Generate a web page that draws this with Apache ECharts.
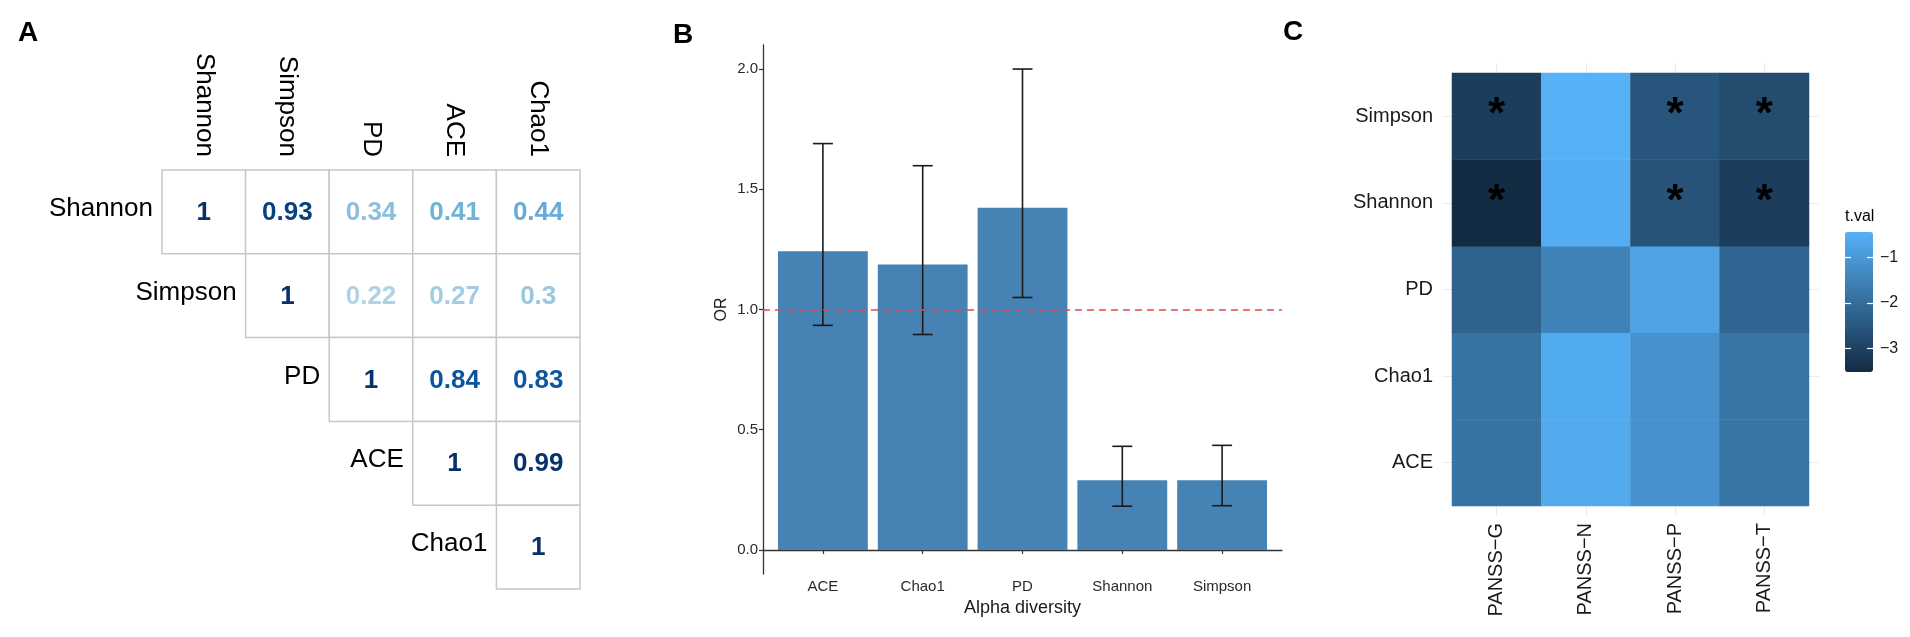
<!DOCTYPE html>
<html lang="en">
<head>
    <meta charset="UTF-8">
    <title>Alpha diversity</title>
    <script src="https://cdn.jsdelivr.net/npm/echarts@6.0.0/dist/echarts.min.js"></script>
    <style type="text/css">
        html, body {
            margin: 0;
            padding: 0;
            background: #fff;
        }
        #main {
            width: 1910px;
            height: 637px;
        }
    </style>
</head>
<body>
    <div id="main"></div>
    <script>
        // A: correlation between alpha diversity indices (upper triangle)
        var alphaNames = ['Shannon', 'Simpson', 'PD', 'ACE', 'Chao1'];
        var corrShannon = [1, 0.93, 0.34, 0.41, 0.44];
        var corrSimpson = [1, 0.22, 0.27, 0.3];
        var corrPD = [1, 0.84, 0.83];
        var corrACE = [1, 0.99];
        var corrChao1 = [1];

        // B: odds ratio with confidence interval
        var orNames = ['ACE', 'Chao1', 'PD', 'Shannon', 'Simpson'];
        var orValues = [1.242, 1.187, 1.423, 0.290, 0.290];
        var orLower = [0.934, 0.896, 1.050, 0.182, 0.184];
        var orUpper = [1.690, 1.598, 2.000, 0.431, 0.435];
        var orTicks = [0, 0.5, 1, 1.5, 2];

        // C: t values, alpha diversity vs PANSS scores
        var panssNames = ['PANSS\u2212G', 'PANSS\u2212N', 'PANSS\u2212P', 'PANSS\u2212T'];
        var heatRows = ['ACE', 'Chao1', 'PD', 'Shannon', 'Simpson'];
        var tvalACE = [-1.87, -0.62, -1.15, -1.80];
        var tvalChao1 = [-1.89, -0.59, -1.18, -1.80];
        var tvalPD = [-2.25, -1.50, -0.77, -2.16];
        var tvalShannon = [-3.51, -0.54, -2.60, -3.10];
        var tvalSimpson = [-3.08, -0.45, -2.55, -2.76];
        var sigShannon = [1, 0, 1, 1];
        var sigSimpson = [1, 0, 1, 1];
        var tvalTicks = [-3, -2, -1];

        var FONT = '"Liberation Sans", Arial, Helvetica, sans-serif';

        // build the triangle: [column, row, r]
        var corrRows = [corrShannon, corrSimpson, corrPD, corrACE, corrChao1];
        var corrData = [];
        corrRows.forEach(function (row, r) {
            row.forEach(function (v, k) {
                corrData.push([r + k, r, v]);
            });
        });

        var barData = orValues.map(function (v, i) { return [i + 1, v]; });
        var errData = orValues.map(function (v, i) { return [i + 1, orLower[i], orUpper[i]]; });

        var tvalRows = [tvalACE, tvalChao1, tvalPD, tvalShannon, tvalSimpson];
        var sigRows = [[0, 0, 0, 0], [0, 0, 0, 0], [0, 0, 0, 0], sigShannon, sigSimpson];
        var heatData = [];
        var allT = [];
        tvalRows.forEach(function (row, r) {
            row.forEach(function (v, c) {
                heatData.push([c, r, v, sigRows[r][c]]);
                allT.push(v);
            });
        });
        var tMin = Math.min.apply(null, allT);
        var tMax = Math.max.apply(null, allT);

        var lightTick = { show: true, alignWithLabel: true, length: 10, lineStyle: { color: '#ebebeb', width: 1 } };

        var myChart = echarts.init(document.getElementById('main'));
        var option = {
            animation: false,
            backgroundColor: '#fff',
            textStyle: { fontFamily: FONT },
            title: [
                { text: 'A', left: 18, top: 19, padding: 0, textStyle: { fontSize: 28, fontWeight: 'bold', color: '#000', fontFamily: FONT } },
                { text: 'B', left: 673, top: 21, padding: 0, textStyle: { fontSize: 28, fontWeight: 'bold', color: '#000', fontFamily: FONT } },
                { text: 'C', left: 1283, top: 18, padding: 0, textStyle: { fontSize: 28, fontWeight: 'bold', color: '#000', fontFamily: FONT } }
            ],
            grid: [
                { left: 162, top: 170, width: 418, height: 419, outerBoundsMode: 'none' },
                { left: 763, top: 45, width: 519, height: 529, outerBoundsMode: 'none' },
                { left: 1452, top: 73, width: 357, height: 433, outerBoundsMode: 'none' },
                { left: 1845, top: 232, width: 28, height: 140, outerBoundsMode: 'none' }
            ],
            xAxis: [
                {
                    gridIndex: 0, type: 'category', data: alphaNames, position: 'top',
                    axisLine: { show: false }, axisTick: { show: false }, splitLine: { show: false },
                    axisLabel: { rotate: 90, margin: 13, fontSize: 26, color: '#000', fontFamily: FONT }
                },
                {
                    gridIndex: 1, type: 'value', min: 0.4, max: 5.6,
                    name: 'Alpha diversity', nameLocation: 'middle', nameGap: 22,
                    nameTextStyle: { fontSize: 18, color: '#1a1a1a', fontFamily: FONT },
                    axisLine: { show: true, lineStyle: { color: '#333', width: 1.3 } },
                    axisTick: { show: true, length: 4, customValues: [1, 2, 3, 4, 5], lineStyle: { color: '#333', width: 1.2 } },
                    axisLabel: {
                        customValues: [1, 2, 3, 4, 5], margin: 5, fontSize: 15, color: '#2a2a2a', fontFamily: FONT,
                        formatter: function (v) { return orNames[Math.round(v) - 1]; }
                    },
                    splitLine: { show: false }
                },
                {
                    gridIndex: 2, type: 'category', data: panssNames, position: 'bottom',
                    axisLine: { show: false }, axisTick: lightTick, splitLine: { show: false },
                    axisLabel: { rotate: 90, margin: 17, fontSize: 20, color: '#1a1a1a', fontFamily: FONT }
                },
                {
                    gridIndex: 2, type: 'category', data: panssNames, position: 'top',
                    axisLine: { show: false }, axisTick: lightTick, axisLabel: { show: false }, splitLine: { show: false }
                },
                { gridIndex: 3, type: 'value', show: false }
            ],
            yAxis: [
                {
                    gridIndex: 0, type: 'category', data: alphaNames, inverse: true, show: false
                },
                {
                    gridIndex: 1, type: 'value', min: -0.1, max: 2.1,
                    name: 'OR', nameLocation: 'middle', nameGap: 33,
                    nameTextStyle: { fontSize: 16, color: '#1a1a1a', fontFamily: FONT },
                    axisLine: { show: true, lineStyle: { color: '#333', width: 1.3 } },
                    axisTick: { show: true, length: 4, customValues: orTicks, lineStyle: { color: '#333', width: 1.2 } },
                    axisLabel: {
                        customValues: orTicks, margin: 5, fontSize: 15, color: '#2a2a2a', fontFamily: FONT,
                        formatter: function (v) { return v.toFixed(1); }
                    },
                    splitLine: { show: false }
                },
                {
                    gridIndex: 2, type: 'category', data: heatRows, position: 'left',
                    axisLine: { show: false }, axisTick: lightTick, splitLine: { show: false },
                    axisLabel: { margin: 19, fontSize: 20, color: '#1a1a1a', fontFamily: FONT }
                },
                {
                    gridIndex: 2, type: 'category', data: heatRows, position: 'right',
                    axisLine: { show: false }, axisTick: lightTick, axisLabel: { show: false }, splitLine: { show: false }
                },
                {
                    gridIndex: 3, type: 'value', min: tMin, max: tMax, position: 'left', z: 10,
                    name: 't.val', nameLocation: 'end', nameGap: 7,
                    nameTextStyle: { align: 'left', verticalAlign: 'bottom', fontSize: 16, color: '#000', fontFamily: FONT },
                    axisLine: { show: false }, splitLine: { show: false },
                    axisTick: { show: true, inside: true, length: 6, customValues: tvalTicks, lineStyle: { color: '#fff', width: 1.2 } },
                    axisLabel: { show: false, customValues: tvalTicks }
                },
                {
                    gridIndex: 3, type: 'value', min: tMin, max: tMax, position: 'right', z: 10,
                    axisLine: { show: false }, splitLine: { show: false },
                    axisTick: { show: true, inside: true, length: 6, customValues: tvalTicks, lineStyle: { color: '#fff', width: 1.2 } },
                    axisLabel: {
                        customValues: tvalTicks, margin: 7, fontSize: 16, color: '#1a1a1a', fontFamily: FONT,
                        formatter: function (v) { return '\u2212' + Math.abs(v); }
                    }
                }
            ],
            visualMap: [
                {
                    type: 'continuous', show: false, seriesIndex: 0, dimension: 2, min: 0, max: 1,
                    inRange: { color: ['#deebf7', '#c6dbef', '#9ecae1', '#6baed6', '#4292c6', '#2171b5', '#08519c', '#08306b'] }
                },
                {
                    type: 'continuous', show: true, seriesIndex: 3, dimension: 2, min: tMin, max: tMax,
                    left: 1845, top: 232, itemWidth: 28, itemHeight: 140, padding: 0,
                    calculable: false, hoverLink: false, text: null,
                    inRange: { color: ['#132B43', '#56B1F7'] }
                }
            ],
            series: [
                {
                    // A: correlation cells
                    type: 'custom', xAxisIndex: 0, yAxisIndex: 0, data: corrData, silent: true,
                    renderItem: function (params, api) {
                        var col = api.value(0), row = api.value(1), r = api.value(2);
                        var c = api.coord([col, row]);
                        var s = api.size([1, 1]);
                        var children = [
                            {
                                type: 'rect',
                                shape: { x: c[0] - s[0] / 2, y: c[1] - s[1] / 2, width: s[0], height: s[1] },
                                style: { fill: '#fff', stroke: '#c8c8c8', lineWidth: 1.5 }
                            },
                            {
                                type: 'text',
                                style: {
                                    x: c[0], y: c[1] + 1, text: String(r), align: 'center', verticalAlign: 'middle',
                                    fill: api.visual('color'), font: 'bold 26px ' + FONT
                                }
                            }
                        ];
                        if (col === row) {
                            children.push({
                                type: 'text',
                                style: {
                                    x: c[0] - s[0] / 2 - 9, y: c[1] - 3, text: alphaNames[row], align: 'right',
                                    verticalAlign: 'middle', fill: '#000', font: '26px ' + FONT
                                }
                            });
                        }
                        return { type: 'group', children: children };
                    }
                },
                {
                    // B: odds ratio bars
                    type: 'bar', xAxisIndex: 1, yAxisIndex: 1, data: barData, barWidth: '90%',
                    itemStyle: { color: '#4682B4' }, silent: true,
                    markLine: {
                        silent: true, symbol: 'none', label: { show: false },
                        lineStyle: { color: '#e5484a', type: [7, 5], width: 1.5 },
                        data: [{ yAxis: 1 }]
                    }
                },
                {
                    // B: confidence interval
                    type: 'custom', xAxisIndex: 1, yAxisIndex: 1, data: errData, silent: true, z: 3,
                    renderItem: function (params, api) {
                        var x = api.value(0);
                        var lo = api.coord([x, api.value(1)]);
                        var hi = api.coord([x, api.value(2)]);
                        var half = api.size([0.2, 0])[0] / 2;
                        var st = { stroke: '#1a1a1a', lineWidth: 1.6 };
                        return {
                            type: 'group', children: [
                                { type: 'line', shape: { x1: lo[0], y1: lo[1], x2: hi[0], y2: hi[1] }, style: st },
                                { type: 'line', shape: { x1: lo[0] - half, y1: lo[1], x2: lo[0] + half, y2: lo[1] }, style: st },
                                { type: 'line', shape: { x1: hi[0] - half, y1: hi[1], x2: hi[0] + half, y2: hi[1] }, style: st }
                            ]
                        };
                    }
                },
                {
                    // C: t value heatmap
                    type: 'heatmap', xAxisIndex: 2, yAxisIndex: 2, data: heatData, silent: true,
                    label: {
                        show: true, fontSize: 44, fontWeight: 'bold', color: '#000', fontFamily: FONT,
                        formatter: function (p) { return p.data[3] ? '*' : ''; }
                    },
                    emphasis: { disabled: true }
                }
            ]
        };
        myChart.setOption(option);
    </script>
</body>
</html>
